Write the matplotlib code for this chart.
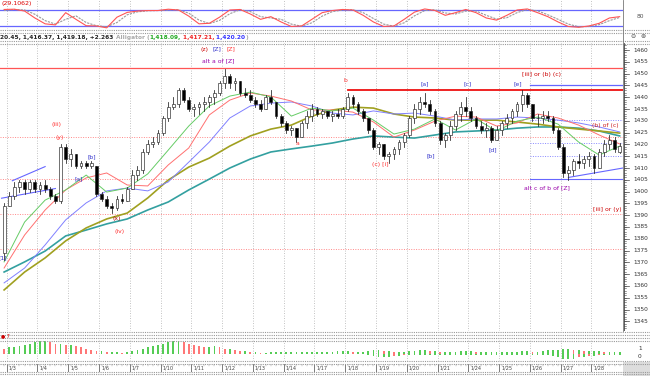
import matplotlib
matplotlib.use("Agg")
import matplotlib.pyplot as plt
from matplotlib.lines import Line2D
from matplotlib.patches import Rectangle
import numpy as np

# ---------------- data ----------------
opens = [1374,1394,1398,1402,1404,1401,1404,1401,1403,1401,1398,1396,1419,1414,1416,1411,1412,1411,1411,1399,
         1397,1394,1393,1397,1396,1401,1407,1409,1417,1420,1421,1425,1431,1436,1437,1443,1439,1435,1436,1437,
         1438,1440,1442,1446,1449,1446,1447,1442,1441,1439,1437,1435,1440,1438,1432,1429,1426,1427,1423,1429,
         1432,1435,1433,1434,1432,1433,1432,1435,1440,1437,1434,1431,1426,1419,1420,1415,1416,1418,1421,1424,
         1431,1435,1438,1437,1434,1429,1422,1424,1428,1433,1436,1434,1431,1428,1426,1427,1422,1426,1429,1431,
         1434,1437,1441,1437,1431,1431,1432,1431,1426,1419,1408,1409,1413,1412,1414,1415,1410,1417,1420,1422,1417.0]
highs = [1395,1400,1404,1405,1405,1405,1405,1404,1405,1402,1399,1420,1420,1418,1416,1413,1413,1413,1411,1400,
         1398,1395,1398,1399,1402,1409,1411,1418,1422,1423,1426,1432,1438,1440,1444,1444,1440,1437,1438,1440,
         1441,1443,1447,1452,1450,1448,1447,1444,1443,1440,1439,1441,1443,1438,1433,1430,1428,1427,1430,1434,
         1437,1436,1435,1434,1434,1435,1436,1442,1441,1438,1435,1431,1427,1421,1420,1417,1419,1422,1425,1432,
         1437,1440,1442,1439,1435,1430,1425,1430,1434,1438,1440,1436,1432,1430,1429,1428,1428,1430,1433,1435,
         1438,1443,1442,1437,1433,1434,1434,1432,1427,1420,1411,1414,1416,1415,1417,1416,1418,1422,1424,1423,1420.45]
lows = [1371,1394,1397,1400,1399,1400,1400,1399,1400,1397,1395,1395,1412,1411,1410,1410,1410,1410,1398,1396,
        1393,1391,1392,1395,1396,1401,1405,1408,1416,1419,1420,1424,1430,1435,1436,1438,1434,1432,1433,1434,
        1436,1437,1441,1444,1444,1443,1441,1440,1438,1436,1434,1435,1437,1431,1428,1425,1424,1421,1423,1427,
        1430,1432,1431,1431,1430,1431,1431,1434,1436,1433,1430,1425,1418,1416,1414,1412,1414,1416,1419,1423,
        1429,1433,1436,1433,1428,1420,1419,1422,1426,1430,1432,1430,1427,1425,1423,1421,1422,1424,1427,1429,
        1432,1434,1436,1430,1428,1429,1430,1425,1418,1406,1405,1407,1410,1410,1411,1408,1410,1415,1418,1417,1416.37]
closes = [1394,1398,1402,1404,1401,1404,1401,1403,1401,1398,1396,1419,1414,1416,1411,1412,1411,1412,1399,1397,
          1394,1393,1397,1396,1401,1407,1409,1417,1420,1421,1425,1431,1436,1437,1443,1439,1435,1436,1437,1438,
          1440,1442,1446,1449,1446,1447,1442,1441,1439,1437,1435,1440,1438,1432,1429,1426,1427,1423,1429,1432,
          1435,1433,1434,1432,1433,1432,1435,1440,1437,1434,1431,1426,1419,1420,1415,1416,1418,1421,1424,1431,
          1435,1438,1437,1434,1429,1422,1424,1428,1433,1436,1434,1431,1428,1426,1427,1422,1426,1429,1431,1434,
          1437,1441,1437,1431,1431,1432,1431,1426,1419,1408,1409,1413,1412,1414,1415,1410,1417,1420,1422,1418,1419.18]

# moving averages sampled every 4 bars (bar 0, 4, ..., 120)
ma_bars = list(range(0, 121, 4))
ma_green = [1370.2,1387.1,1396.4,1400.7,1407.0,1399.8,1401.5,1407.5,1417.6,1427.8,1436.3,1440.5,1442.2,1440.1,1432.0,1435.4,
            1434.2,1435.4,1430.3,1424.4,1426.5,1430.8,1426.1,1430.8,1425.7,1429.9,1431.6,1428.6,1421.0,1415.5,1419.3]
ma_red = [1367.6,1381.6,1392.2,1400.7,1405.8,1407.9,1402.8,1402.4,1411.3,1418.5,1432.5,1438.8,1441.8,1440.5,1438.4,1434.6,
          1434.6,1433.7,1429.5,1423.1,1426.1,1429.9,1432.0,1431.6,1427.8,1429.1,1432.9,1431.2,1428.2,1424.0,1420.2]
ma_blue = [1361.3,1367.6,1377.4,1388.0,1395.2,1400.3,1401.5,1400.3,1404.1,1412.5,1421.0,1431.2,1436.3,1437.5,1438.0,1436.3,
           1433.3,1432.5,1434.2,1432.9,1433.3,1432.0,1430.3,1430.8,1430.8,1431.6,1431.2,1430.3,1429.1,1427.4,1425.3]
ma_olive = [1358.3,1365.9,1371.9,1379.1,1384.6,1388.4,1390.9,1397.3,1404.9,1410.4,1414.2,1419.3,1423.6,1426.5,1428.2,1432.0,
            1434.6,1435.8,1435.4,1432.9,1431.6,1431.2,1430.3,1430.3,1430.3,1429.5,1428.6,1427.4,1426.5,1425.7,1424.8]
ma_teal = [1365.9,1370.2,1374.8,1381.2,1383.7,1386.3,1388.4,1392.2,1395.6,1400.7,1405.3,1410.0,1413.8,1416.8,1418.1,1419.3,
           1420.6,1422.3,1423.6,1423.1,1422.7,1424.0,1425.3,1425.7,1426.1,1426.9,1427.4,1427.4,1426.9,1425.7,1423.6]

# oscillator (top panel), sampled every 2 bars
osc_bars = list(range(0, 121, 2))
osc_main = [82,83,76,50,28,24,70,45,21,20,13,53,71,76,78,78,83,80,57,28,30,53,
            80,82,65,45,55,35,18,20,45,70,78,82,80,60,35,18,20,45,72,84,78,60,70,82,
            70,50,42,60,80,84,70,55,35,18,15,20,30,50,55]
osc_signal = [78,82,80,64,40,27,45,58,33,21,17,33,62,73,77,78,80,81,68,42,29,41,
              66,81,74,55,50,45,27,19,32,57,74,80,81,70,48,27,19,32,58,78,81,69,65,76,
              76,60,46,51,70,82,77,62,45,27,17,18,25,40,52]

# gator-like histogram below
hist_up = [4,5,5,6,7,8,9,10,10,9,8,8,7,7,6,5,4,3,2,2,1,1,1,0.5,1,2,3,4,5,6,7,8,9,10,10,9,8,7,6,5,
           5,6,5,4,4,3,2,2,1,1,0.5,0.5,1,1,1,1,1,1,1,1,1,1,1,1,1,2,2,2,1,1,1,2,3,3,2,2,1,1,1,2,
           2,3,3,2,2,1,1,1,1,2,2,2,1,1,1,1,1,1,1,1,1,2,2,1,1,2,3,3,3,4,4,3,3,2,2,2,2,1,1,1,1]
hist_dn = [0.5]*71 + [1,2,3,3,3,2,2,1,1,1] + [1]*26 + [2,3,4,4,4,3,3,2,2,1] + [1]*4

res_levels = [1452.3, 1442.9]          # solid red resistance lines
res_start = [0, 67]
fib_levels = [1423.1, 1405.3, 1390.5, 1375.8]   # dotted red levels
blue_dotted = [1430.3, 1420.6, 1415.0]
blue_solid = [1445.0]
y_ticks = list(range(1345, 1461, 5))

labels = [("(iii)", 10.3, 1428.6, "#ff3333"), ("(y)", 10.9, 1423.1, "#ff3333"),
          ("[b]", 17.1, 1414.7, "#3333cc"), ("[a]", 14.6, 1405.3, "#3333cc"),
          ("(x)", 22.0, 1388.4, "#aa0000"), ("(iv)", 22.6, 1382.9, "#ff3333"),
          ("[1]", -0.2, 1371.9, "#3333cc"),
          ("(z)", 39.0, 1460.4, "#cc0000"), ("[Z]", 41.5, 1460.4, "#3333cc"), ("[Z]", 44.2, 1460.4, "#ff3333"),
          ("alt a of [Z]", 41.7, 1455.3, "#9900aa"),
          ("b", 66.5, 1446.9, "#ff3333"), ("a", 57.1, 1420.2, "#ff3333"),
          ("(c) [i]", 73.3, 1411.3, "#ff3333"),
          ("[a]", 82.0, 1445.6, "#3333cc"), ("[b]", 83.2, 1415.1, "#3333cc"),
          ("[c]", 90.4, 1445.6, "#3333cc"), ("[d]", 95.3, 1417.6, "#3333cc"),
          ("[e]", 100.2, 1445.6, "#3333cc"),
          ("[iii] or (b) (c)", 104.8, 1449.8, "#cc0000"),
          ("(b) of (c)", 117.2, 1428.2, "#cc2222"),
          ("alt c of b of [Z]", 105.8, 1401.5, "#9900aa"),
          ("[iii] or (y)", 117.6, 1392.2, "#cc0000")]

# ---------------- layout ----------------
W, H = 650, 376
fig = plt.figure(figsize=(W/100, H/100), dpi=100)
fig.patch.set_facecolor("white")
plt.rcParams['font.family'] = ['DejaVu Sans']

def fr(x0, y0, x1, y1):
    return [x0/W, 1 - y1/H, (x1-x0)/W, (y1-y0)/H]

XL = (-0.8, 120.65)
grid_x = [0.5 + 6*k for k in range(20)]
GRID = "#b0b0b0"

ax_o = fig.add_axes(fr(0, 0, 623, 29))
ax_m = fig.add_axes(fr(0, 43, 623, 331))
ax_h = fig.add_axes(fr(0, 340, 623, 361))

for ax in (ax_o, ax_m, ax_h):
    ax.set_xlim(*XL)
    ax.set_xticks([])
    ax.set_yticks([])
    for s in ax.spines.values():
        s.set_visible(False)
    for gx in grid_x:
        ax.axvline(gx, color=GRID, lw=0.6, ls=(0, (1, 2)), zorder=0)

# --- oscillator ---
ax_o.set_ylim(8.6, 117.6)
ax_o.axhline(80, color="#6666ff", lw=0.9)
ax_o.axhline(20, color="#6666ff", lw=0.9)
ax_o.plot(osc_bars, osc_signal, color="#999999", lw=0.8, ls=(0, (2, 1)))
ax_o.plot(osc_bars, osc_main, color="#ff5555", lw=0.8)
fig.text(1/W, 1 - 4/H, "(29.1062)", fontsize=4.5, color="#dd0000", va="center", ha="left")
fig.text(640/W, 1 - 17/H, "80", fontsize=4.3, color="#555555", va="center", ha="center")

# --- main price panel ---
ax_m.set_ylim(1340.9, 1463.0)
for lv in fib_levels:
    ax_m.axhline(lv, color="#ff8888", lw=0.7, ls=(0, (1, 1.5)), zorder=1)
for lv, st in zip(res_levels, res_start):
    if st == 0:
        ax_m.plot([XL[0], XL[1]], [lv, lv], color="#ff5555", lw=0.9, zorder=2)
    else:
        ax_m.plot([st, XL[1]], [lv, lv], color="#ee1111", lw=1.3, zorder=2)
for lv in blue_dotted:
    ax_m.plot([102.5, XL[1]], [lv, lv], color="#8888ff", lw=0.7, ls=(0, (1, 1.5)), zorder=1)
for lv in blue_solid:
    ax_m.plot([102.5, XL[1]], [lv, lv], color="#6666ff", lw=0.9, zorder=2)
# trend lines (channel/wedge)
ax_m.plot([1.6, 8.0], [1404.6, 1410.6], color="#6666ff", lw=0.8)
ax_m.plot([-0.5, 10.0], [1397.2, 1401.3], color="#6666ff", lw=0.8)
ax_m.plot([102.5, 120.65], [1405.3, 1405.3], color="#6666ff", lw=0.8)
ax_m.plot([110.0, 120.65], [1406.0, 1410.0], color="#6666ff", lw=0.8)

ax_m.plot(ma_bars, ma_teal, color="#33a0a0", lw=1.2, zorder=3)
ax_m.plot(ma_bars, ma_olive, color="#a0a020", lw=1.2, zorder=3)
ax_m.plot(ma_bars, ma_blue, color="#8080ff", lw=0.7, zorder=3)
ax_m.plot(ma_bars, ma_red, color="#ff7070", lw=0.7, zorder=3)
ax_m.plot(ma_bars, ma_green, color="#66cc66", lw=0.7, zorder=3)

bw = 0.55
for i, (o, h, l, c) in enumerate(zip(opens, highs, lows, closes)):
    ax_m.plot([i, i], [l, h], color="#222222", lw=0.55, zorder=4)
    lo, hi = min(o, c), max(o, c)
    if hi - lo < 0.3:
        hi = lo + 0.3
    fc = "white" if c >= o else "black"
    ax_m.add_patch(Rectangle((i - bw/2, lo), bw, hi - lo, facecolor=fc, edgecolor="#222222",
                             lw=0.45, zorder=5))

for t, bx, py, col in labels:
    ax_m.text(bx, py, t, fontsize=4.4, color=col, ha="center", va="center", zorder=6)

# right price axis
ax_r = fig.add_axes(fr(623, 43, 650, 331))
ax_r.set_ylim(1340.9, 1463.0)
ax_r.set_xlim(0, 1)
ax_r.axis("off")
ax_r.plot([0.02, 0.02], [1340.9, 1463.0], color="#444444", lw=0.6)
for v in np.arange(1341, 1463, 1):
    ax_r.plot([0.02, 0.1], [v, v], color="#444444", lw=0.4)
for v in y_ticks:
    ax_r.plot([0.02, 0.22], [v, v], color="#444444", lw=0.5)
    ax_r.text(0.66, v, str(v), fontsize=4.2, color="#333333", ha="center", va="center")

# --- histogram panel ---
ax_h.set_ylim(-6, 11)
hx = np.arange(len(hist_up))
up_col = ["#55cc55" if (k > 0 and hist_up[k] >= hist_up[k-1]) else "#ff7777" for k in range(len(hist_up))]
dn_col = ["#55cc55" if (k > 0 and hist_dn[k] >= hist_dn[k-1]) else "#ff7777" for k in range(len(hist_dn))]
ax_h.bar(hx, hist_up, width=0.35, color=up_col, zorder=2)
ax_h.bar(hx, [-v for v in hist_dn], width=0.35, color=dn_col, zorder=2)
fig.text(640/W, 1 - 349/H, "1", fontsize=4.2, color="#333333", ha="center", va="center")
fig.text(640/W, 1 - 356/H, "0", fontsize=4.2, color="#333333", ha="center", va="center")

# --- header / separators ---
def hline(y, x0=0, x1=650, color="#999999", lw=0.8, ls=(0, (1, 1))):
    fig.add_artist(Line2D([x0/W, x1/W], [1 - y/H, 1 - y/H], color=color, lw=lw, ls=ls))

for yy in (30, 32.5, 41, 43.5, 332, 334.5, 338, 340.5, 361, 363.5, 371.5, 374):
    hline(yy)
fig.add_artist(Line2D([623/W, 623/W], [1 - 331/H, 1], color="#777777", lw=0.6))

header = [("20.45, 1,416.37, 1,419.18, +2.263", "#222222"), (" Alligator (", "#aaaaaa"),
          ("1,418.09,", "#22aa22"), (" 1,417.21,", "#ee2222"), (" 1,420.20", "#3333ff"), (")", "#aaaaaa")]
xpos = 0.5
renderer = fig.canvas.get_renderer()
for txt, col in header:
    t = fig.text(xpos/W, 1 - 37/H, txt, fontsize=4.2, color=col, va="center", ha="left", fontweight="bold")
    bb = t.get_window_extent(renderer=renderer)
    xpos += bb.width
fig.text(633/W, 1 - 37/H, "\u2296", fontsize=4.5, color="#555555", ha="center", va="center")
fig.text(643/W, 1 - 37/H, "\u2297", fontsize=4.5, color="#555555", ha="center", va="center")
fig.text(1/W, 1 - 336/H, "\u25cf 7", fontsize=3.5, color="#cc0000", ha="left", va="center")

# time axis labels
dates = ["1/3", "1/4", "1/5", "1/6", "1/7", "1/10", "1/11", "1/12", "1/13", "1/14",
         "1/17", "1/18", "1/19", "1/20", "1/21", "1/24", "1/25", "1/26", "1/27", "1/28"]
ax_t = fig.add_axes(fr(0, 363.5, 623, 371.5))
ax_t.set_xlim(*XL)
ax_t.set_ylim(0, 1)
ax_t.axis("off")
for k, gx in enumerate(grid_x):
    ax_t.plot([gx, gx], [0, 1], color="#666666", lw=0.6)
    ax_t.text(gx + 0.4, 0.45, dates[k], fontsize=3.6, color="#444444", ha="left", va="center")
for b in range(0, 121):
    ax_t.plot([b, b], [0.75, 1], color="#888888", lw=0.3)
fig.add_artist(Rectangle((623/W, 0), 27/W, 14/H, transform=fig.transFigure,
                         facecolor="#dddddd", edgecolor="none", hatch="....", lw=0))

fig.savefig("out.png", dpi=100, facecolor="white")
